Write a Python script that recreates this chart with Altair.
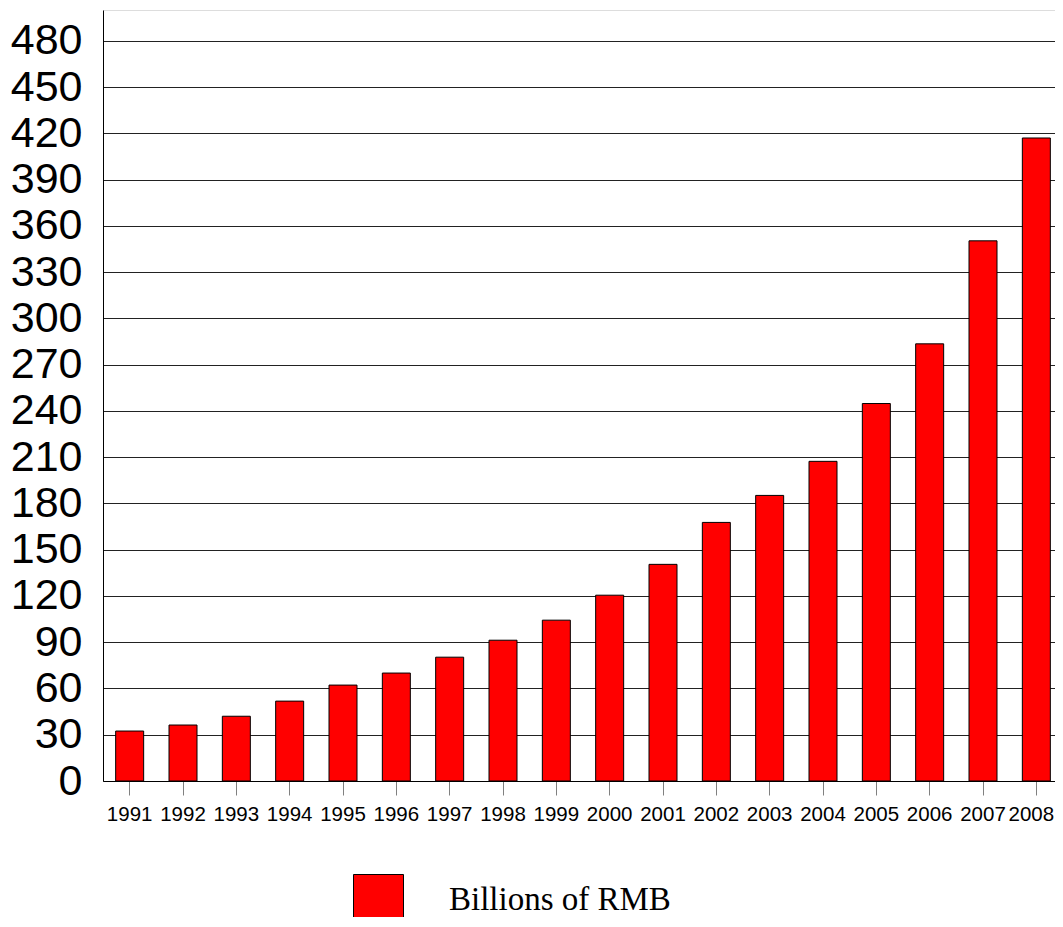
import altair as alt
import pandas as pd

years = ["1991", "1992", "1993", "1994", "1995", "1996", "1997", "1998", "1999",
         "2000", "2001", "2002", "2003", "2004", "2005", "2006", "2007", "2008"]
values = [32.4, 36.3, 42.0, 51.8, 62.2, 70.0, 80.3, 91.3, 104.3,
          120.5, 140.5, 167.7, 185.2, 207.3, 244.8, 283.5, 350.3, 417.0]
series_name = "Billions of RMB"
y_ticks = list(range(0, 481, 30))

df = pd.DataFrame({"year": years, "value": values, "series": [series_name] * len(years)})

chart = alt.Chart(df).mark_bar(stroke="#000000", strokeWidth=1).encode(
    x=alt.X("year:N", title=None,
            scale=alt.Scale(paddingInner=0.475, paddingOuter=0.2375, range=[0, 960]),
            axis=alt.Axis(labelAngle=0, labelFont="Liberation Sans", labelFontSize=20.5,
                          labelColor="#000000", labelPadding=9,
                          labelOffset={"condition": {"test": "datum.value == '2008'", "value": -5},
                                       "value": 0},
                          tickSize=14, tickColor="#808080", tickWidth=1,
                          domainColor="#000000", domainWidth=1, grid=False)),
    y=alt.Y("value:Q", title=None,
            scale=alt.Scale(domain=[0, 500], nice=False),
            axis=alt.Axis(values=y_ticks, labelFont="Liberation Sans", labelFontSize=43,
                          labelColor="#000000", labelPadding=21, ticks=False,
                          domainColor="#000000", domainWidth=1,
                          grid=True, gridColor="#222222", gridWidth=1, gridOpacity=1)),
    color=alt.Color("series:N", scale=alt.Scale(range=["#FF0000"]),
                    legend=alt.Legend(title=None, orient="none", legendX=250, legendY=864,
                                      symbolType="square", symbolSize=2500,
                                      symbolStrokeColor="#000000", symbolStrokeWidth=1,
                                      labelFont="Liberation Serif", labelFontSize=33,
                                      labelColor="#000000", labelOffset=45, padding=0,
                                      labelLimit=0)),
).properties(
    width=952, height=771,
    autosize=alt.AutoSizeParams(type="none"),
    padding={"left": 95, "top": 2, "right": 0, "bottom": 136},
).configure_view(stroke=None).configure(background="#ffffff")

chart.save("out.html", embed_options={"renderer": "svg", "actions": False})
